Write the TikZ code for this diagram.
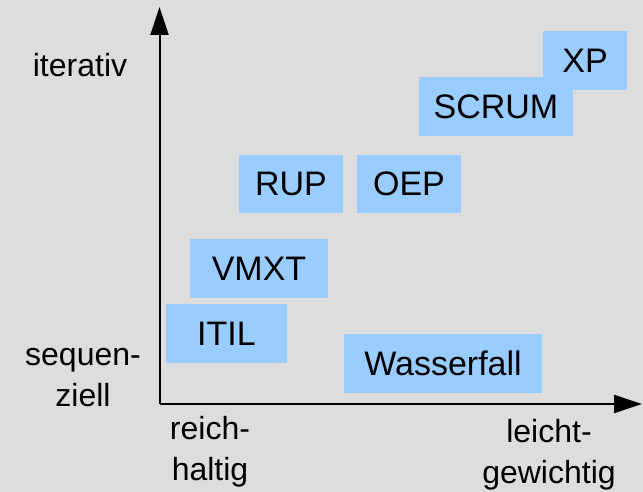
\documentclass[tikz,border=0pt]{standalone}
\usepackage{fontspec}
\setmainfont{Liberation Sans}
\usetikzlibrary{arrows.meta}
\definecolor{bgc}{HTML}{DDDDDD}
\definecolor{boxc}{HTML}{99CCFF}
\begin{document}
\begin{tikzpicture}[x=0.5pt,y=-0.5pt,
  every node/.style={font=\fontsize{16}{20.5}\selectfont, text=black},
  method/.style={fill=boxc, draw=none, inner sep=0pt, minimum height=29.5pt, font=\fontsize{17}{20}\selectfont},
  axislabel/.style={align=center, inner sep=0pt, anchor=base},
  axis/.style={line width=1pt, -{Triangle[length=14pt,width=9pt]}}]
\fill[bgc] (0,0) rectangle (643,492);
\useasboundingbox (0,0) rectangle (643,492);
% axes
\coordinate (o) at (159.5,404);
\coordinate (ytip) at (159.5,7);
\coordinate (xtip) at (642,404);
\draw[axis] (o) -- (ytip);
\draw[axis] (o) -- (xtip);
% method boxes
\node[method, minimum width=42pt] (xp) at (585,60.5) {XP};
\node[method, minimum width=77pt] (scrum) at (496,106.5) {SCRUM};
\node[method, minimum width=52pt, minimum height=29pt] (rup) at (291,184) {RUP};
\node[method, minimum width=52pt, minimum height=29pt] (oep) at (409,184) {OEP};
\node[method, minimum width=69pt] (vmxt) at (259,268.5) {VMXT};
\node[method, minimum width=60.5pt] (itil) at (226.5,333.5) {ITIL};
\node[method, minimum width=99pt] (wf) at (443,363.5) {Wasserfall};
% axis labels
\node[axislabel] (it) at (80,77) {iterativ};
\node[axislabel] (seq) at (83,406) {sequen-\\ziell};
\node[axislabel] (rh) at (210,480) {reich-\\haltig};
\node[axislabel] (lg) at (549,483) {leicht-\\gewichtig};
\end{tikzpicture}
\end{document}
